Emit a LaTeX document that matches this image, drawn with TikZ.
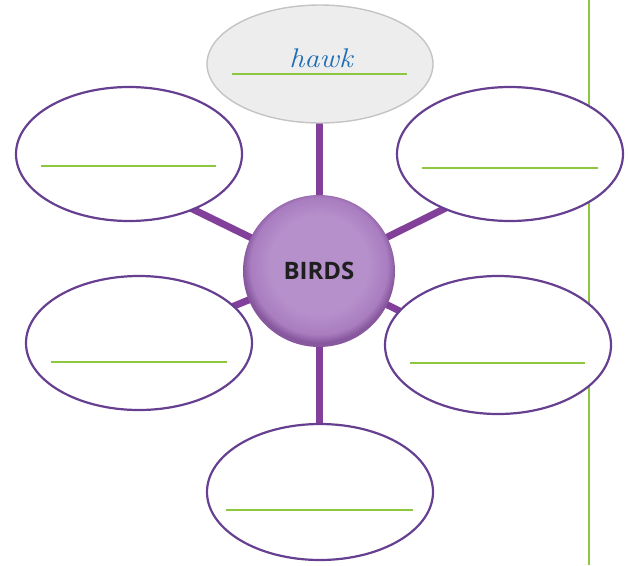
\documentclass[tikz,border=0pt]{standalone}
\usepackage{fontspec}
\usepackage{graphicx}
\usetikzlibrary{shapes.geometric,backgrounds}
\newfontfamily\birdsfont{Open Sans}
\definecolor{rim}{HTML}{663F91}
\definecolor{spoke}{HTML}{82409A}
\definecolor{leaf}{HTML}{8DC63F}
\definecolor{pin}{HTML}{B690CB}
\definecolor{pmid}{HTML}{A97DC0}
\definecolor{pout}{HTML}{88589F}
\definecolor{inkblue}{HTML}{1F6DB3}
\definecolor{hawkfill}{HTML}{EDEDED}
\definecolor{hawkrim}{HTML}{C4C4C4}
\pgfdeclareradialshading{birdball}{\pgfpoint{0bp}{3bp}}{color(0bp)=(pin); color(16bp)=(pin); color(22.5bp)=(pmid); color(25bp)=(pout); color(50bp)=(pout)}
\tikzset{
  blank/.style={ellipse, draw=rim, line width=2.2pt, fill=white, inner sep=0pt,
    minimum width=226pt, minimum height=134pt},
  writeline/.style={draw=leaf, line width=2pt},
  spokeline/.style={draw=spoke, line width=7pt},
}
\begin{document}
\begin{tikzpicture}[x=1pt,y=-1pt]
\useasboundingbox (0,0) rectangle (628,565);
% right margin rule
\coordinate (mt) at (589,0);
\coordinate (mb) at (589,565);
\draw[draw=leaf, line width=2.6pt] (mt) -- (mb);
% centre
\node[circle, minimum size=152pt, inner sep=0pt, shading=birdball] (c) at (319,271) {};
\node[font=\birdsfont\bfseries\fontsize{24}{24}\selectfont, text=black!88] (ct) at (319,271) {BIRDS};
% ellipses
\node[ellipse, draw=hawkrim, line width=1.4pt, fill=hawkfill, inner sep=0pt,
  minimum width=226pt, minimum height=118pt] (top) at (320,64) {};
\node[blank] (ul) at (129,154) {};
\node[blank] (ur) at (510,154) {};
\node[blank] (ll) at (139,343) {};
\node[blank, minimum height=138pt] (lr) at (498,345) {};
\node[blank, minimum height=136pt] (bt) at (320,492) {};
% writing lines
\coordinate (t1) at (232,74);  \coordinate (t2) at (407,74);
\coordinate (a1) at (41,166);  \coordinate (a2) at (216,166);
\coordinate (b1) at (422,168); \coordinate (b2) at (598,168);
\coordinate (d1) at (51,362);  \coordinate (d2) at (227,362);
\coordinate (e1) at (410,363); \coordinate (e2) at (585,363);
\coordinate (f1) at (226,510); \coordinate (f2) at (413,510);
\draw[writeline] (t1) -- (t2);
\draw[writeline] (a1) -- (a2);
\draw[writeline] (b1) -- (b2);
\draw[writeline] (d1) -- (d2);
\draw[writeline] (e1) -- (e2);
\draw[writeline] (f1) -- (f2);
\node[anchor=base, text=inkblue, inner sep=0pt] (hawk) at (321,67)
  {\scalebox{1.12}[1]{\fontsize{27}{27}\selectfont\itshape hawk}};
% spokes
\coordinate (kt) at (319,100);
\coordinate (kul) at (170,198);
\coordinate (kur) at (470,196);
\coordinate (kll) at (200,320);
\coordinate (klr) at (440,331);
\coordinate (kb) at (319,460);
\begin{scope}[on background layer]
\draw[spokeline] (c.center) -- (kt);
\draw[spokeline] (c.center) -- (kul);
\draw[spokeline] (c.center) -- (kur);
\draw[spokeline] (c.center) -- (kll);
\draw[spokeline] (c.center) -- (klr);
\draw[spokeline] (c.center) -- (kb);
\end{scope}
\end{tikzpicture}
\end{document}
